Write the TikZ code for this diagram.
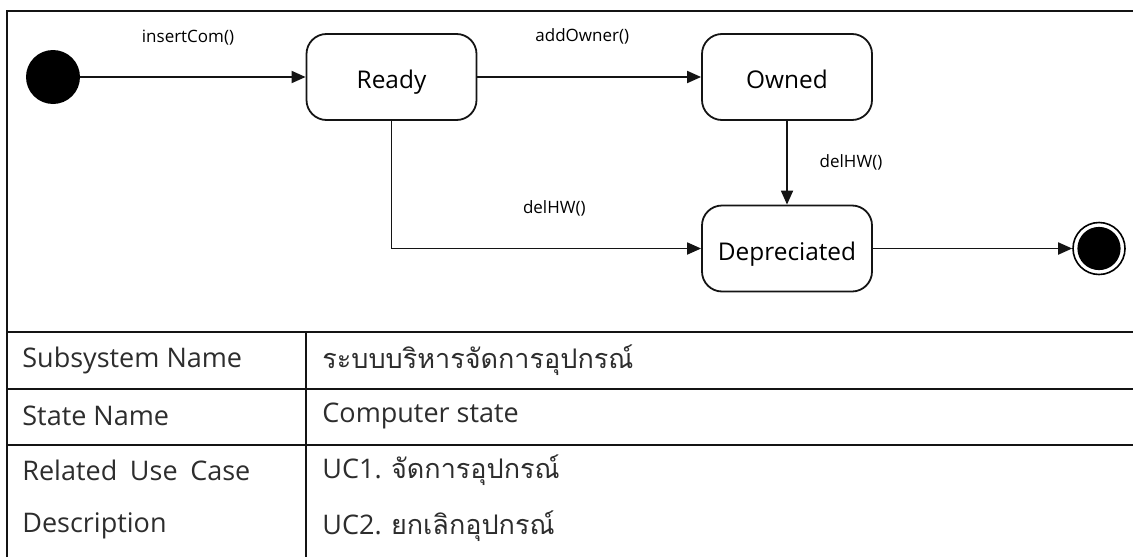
\documentclass[tikz,border=0pt]{standalone}
\usepackage{fontspec}
\setmainfont{Open Sans}
\newfontfamily\thaifont[Script=Thai]{Loma}
\usetikzlibrary{arrows.meta,positioning}
\definecolor{tableText}{RGB}{45,45,45}
\definecolor{lineBlack}{RGB}{20,20,20}

\begin{document}
\begin{tikzpicture}[
  x=0.5pt, y=-0.5pt,
  >={Triangle[length=7pt,width=6pt]},
  statebox/.style={draw=lineBlack, rounded corners=10pt, line width=0.9pt,
    minimum width=85pt, minimum height=43pt, inner sep=0pt,
    text height=11.5pt, text depth=0pt,
    font=\fontsize{12.2}{14}\selectfont},
  startstate/.style={circle, fill=black, minimum size=27pt, inner sep=0pt},
  endstate/.style={circle, draw=black, line width=0.8pt, minimum size=26pt, inner sep=0pt,
    path picture={\fill (path picture bounding box.center) circle[radius=10.8pt];}},
  trans/.style={->, line width=0.9pt, draw=lineBlack},
  translabel/.style={font=\fontsize{8.5}{10}\selectfont, inner sep=0pt},
  tableline/.style={line width=1.4pt, draw=lineBlack},
  cell/.style={anchor=west, inner sep=0pt, text=tableText, font=\fontsize{13.5}{16}\selectfont}
]
\useasboundingbox (0,0) rectangle (1133,557);

% States of the computer.
\node[startstate] (init) at (53,77) {};
\node[statebox] (ready) at (391.5,77) {Ready};
\node[statebox] (owned) at (787,77) {Owned};
\node[statebox] (depreciated) at (787,248.5) {Depreciated};
\node[endstate] (final) at (1099,248.5) {};

% Transitions.
\draw[trans] (init) -- (ready)
  node[midway, translabel, xshift=-2.5pt, yshift=19.5pt] (lblInsert) {insertCom()};
\draw[trans] (ready) -- (owned)
  node[midway, translabel, xshift=-3.5pt, yshift=20.5pt] (lblOwner) {addOwner()};
\draw[trans] (owned) -- (depreciated)
  node[midway, translabel, xshift=32pt] (lblDelOwned) {delHW()};
\draw[trans] (ready) |- (depreciated)
  node[pos=0.75, translabel, xshift=4pt, yshift=20pt] (lblDelReady) {delHW()};
\draw[trans] (depreciated) -- (final);

% Description table.
\draw[tableline] (7,557) -- (7,11) -- (1133,11);
\draw[tableline] (7,332) -- (1133,332);
\draw[tableline] (7,389) -- (1133,389);
\draw[tableline] (7,445) -- (1133,445);
\draw[line width=1.2pt, draw=lineBlack] (306,332) -- (306,557);

\node[cell] (subsysName) at (22,360) {Subsystem Name};
\node[cell] (subsysValue) at (322,360) {\thaifont ระบบบริหารจัดการอุปกรณ์};
\node[cell] (stateName) at (22,416) {State Name};
\node[cell] (stateValue) at (322,416) {Computer state};
\node[cell, text width=114pt] (useCaseName) at (22,470) {Related\hfill Use\hfill Case};
\node[cell] (descName) at (22,526) {Description};
\node[cell] (useCaseOne) at (322,470) {UC1. {\thaifont จัดการอุปกรณ์}};
\node[cell] (useCaseTwo) at (322,526) {UC2. {\thaifont ยกเลิกอุปกรณ์}};

\end{tikzpicture}
\end{document}
